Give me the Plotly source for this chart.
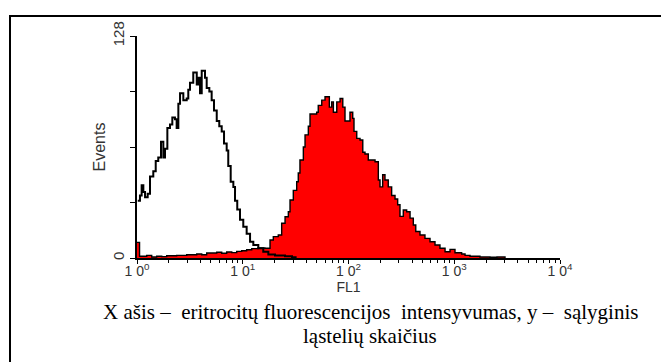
import numpy as np
import plotly.graph_objects as go

# FL1 positions given as log10(FL1), counts
ctrl_log = [0.007, 0.028, 0.044, 0.060, 0.076, 0.101, 0.123, 0.154, 0.177, 0.201, 0.227, 0.249,
            0.265, 0.287, 0.312, 0.334, 0.359, 0.375, 0.391, 0.407, 0.438, 0.470, 0.485, 0.501,
            0.532, 0.565, 0.580, 0.596, 0.612, 0.643, 0.659, 0.684, 0.706, 0.728, 0.754, 0.778,
            0.801, 0.823, 0.848, 0.863, 0.886, 0.911, 0.927, 0.948, 0.974, 1.005, 1.037, 1.069,
            1.100, 1.147, 1.194, 1.242, 1.305, 1.400, 1.466, 1.500]
ctrl_cnt = [33, 36, 42, 38, 35, 37, 47, 50, 56, 58, 67, 58,
            63, 75, 77, 81, 80, 75, 89, 95, 91, 92, 97, 101,
            107, 100, 104, 95, 108, 104, 98, 96, 91, 85, 79, 76,
            73, 66, 62, 53, 44, 41, 33, 28, 22, 18, 14, 9.4,
            7.5, 5.6, 3.6, 2, 1.5, 1, 0.5, 0]

stain_log = [0.000, 0.024, 0.092, 0.139, 0.186, 0.234, 0.281, 0.328, 0.375, 0.423, 0.470, 0.517,
             0.565, 0.612, 0.659, 0.706, 0.754, 0.801, 0.848, 0.896, 0.943, 0.990, 1.037, 1.085,
             1.144, 1.210, 1.258, 1.289, 1.336, 1.368, 1.400, 1.431, 1.447, 1.478, 1.510, 1.525,
             1.541, 1.573, 1.589, 1.620, 1.636, 1.667, 1.699, 1.714, 1.747, 1.778, 1.804, 1.819,
             1.841, 1.857, 1.889, 1.920, 1.946, 1.967, 1.989, 2.014, 2.040, 2.052, 2.078, 2.109,
             2.135, 2.156, 2.187, 2.219, 2.251, 2.282, 2.298, 2.323, 2.345, 2.376, 2.408, 2.440,
             2.465, 2.487, 2.518, 2.550, 2.582, 2.613, 2.636, 2.676, 2.723, 2.771, 2.818, 2.865,
             2.913, 2.960, 3.007, 3.070, 3.102, 3.149, 3.243, 3.338, 3.404, 3.480]
stain_cnt = [9, 1, 1.5, 0.6, 1, 0.8, 1.3, 1.3, 1.5, 1.5, 1.9, 1.9,
             2.3, 1.9, 2.9, 2.9, 3.3, 2.7, 3.5, 3.1, 3.8, 4.2, 4.8, 5.4,
             5.8, 5.6, 10.4, 12.3, 13.3, 20, 23.8, 26.7, 33.4, 39, 44, 49,
             56.5, 64, 71, 76, 83, 83, 84, 88, 91, 93, 93, 87,
             90, 84, 90, 92, 87, 79, 79, 84, 80.5, 73, 69, 68,
             61, 60, 56.5, 56.5, 55.5, 45, 41, 48, 45, 41, 36, 34,
             30.7, 24, 27.7, 26.7, 23, 19, 15.3, 13.3, 11.3, 9.4, 7.5, 5.6,
             3.6, 5, 3, 2.3, 1.5, 1, 0.6, 0.4, 0.6, 0]

x_tickvals = [1, 10, 100, 1000, 10000]
x_ticktext = ["1 0<sup>0</sup>", "1 0<sup>1</sup>", "1 0<sup>2</sup>", "1 0<sup>3</sup>", "1 0<sup>4</sup>"]
y_tickvals = [0, 32, 64, 96, 128]
y_ticktext = ["0", "", "", "", "128"]

caption1 = "X ašis –\u00a0 eritrocitų fluorescencijos\u00a0 intensyvumas, y –\u00a0 sąlyginis"
caption2 = "ląstelių skaičius"

fig = go.Figure()
fig.add_trace(go.Scatter(
    x=10 ** np.array(stain_log), y=stain_cnt, mode="lines", line_shape="hv",
    fill="tozeroy", fillcolor="#ff0000", line=dict(color="black", width=1.4),
    hoverinfo="skip", showlegend=False))
fig.add_trace(go.Scatter(
    x=10 ** np.array(ctrl_log), y=ctrl_cnt, mode="lines", line_shape="hv",
    line=dict(color="black", width=2), hoverinfo="skip", showlegend=False))

narrow = "Liberation Sans Narrow, Arial Narrow, Liberation Sans, sans-serif"
fig.update_xaxes(type="log", range=[0, 4], showgrid=False, zeroline=False,
                 showline=True, linecolor="black", linewidth=1.5,
                 ticks="outside", ticklen=4, tickwidth=1.2, tickcolor="black",
                 tickvals=x_tickvals, ticktext=x_ticktext, ticklabelstandoff=-5,
                 tickfont=dict(family="Liberation Sans, Arial", size=14, color="#333"),
                 minor=dict(ticks="outside", ticklen=3, tickwidth=1, tickcolor="black",
                            tickvals=[m * 10 ** d for d in range(4) for m in range(2, 10)]),
                 title=dict(text="FL1", font=dict(family="Liberation Sans, Arial", size=14, color="#333"), standoff=0))
fig.update_yaxes(range=[0, 128], showgrid=False, zeroline=False,
                 showline=True, linecolor="black", linewidth=1.5,
                 ticks="outside", ticklen=5, tickwidth=1.2, tickcolor="black",
                 tickvals=y_tickvals, ticktext=y_ticktext, tickangle=-90,
                 tickfont=dict(family=narrow, size=15, color="#333"),
                 title=dict(text="Events", font=dict(family=narrow, size=16, color="#333"), standoff=1))

fig.add_annotation(text=caption1, xref="paper", yref="paper", x=(370 - 137) / 423, y=(258 - 312) / 222,
                   showarrow=False, xanchor="center", yanchor="middle",
                   font=dict(family="Liberation Serif, Times New Roman, serif", size=21, color="black"))
fig.add_annotation(text=caption2, xref="paper", yref="paper", x=(370 - 137) / 423, y=(258 - 336) / 222,
                   showarrow=False, xanchor="center", yanchor="middle",
                   font=dict(family="Liberation Serif, Times New Roman, serif", size=21, color="black"))

# outer frame
fig.add_shape(type="rect", xref="paper", yref="paper",
              x0=(10 - 137) / 423, x1=(665 - 137) / 423, y0=(258 - 370) / 222, y1=(258 - 16) / 222,
              line=dict(color="black", width=2), fillcolor="rgba(0,0,0,0)", layer="below")

# page body has an 8px margin, so the figure is offset by 8px
fig.update_layout(width=661, height=354, margin=dict(l=129, r=109, t=28, b=104),
                  paper_bgcolor="white", plot_bgcolor="white")
fig.write_html("out.html")
